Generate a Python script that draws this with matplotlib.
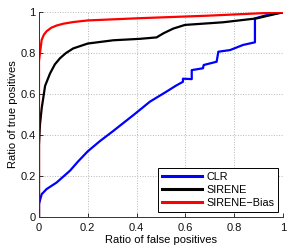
import matplotlib
matplotlib.use('Agg')
import matplotlib.pyplot as plt

plt.rcParams['font.family'] = ['Liberation Sans', 'DejaVu Sans']

# ROC curves
clr_fpr = [0, 0, 0.011, 0.031, 0.072, 0.127, 0.16, 0.2, 0.25, 0.305, 0.39, 0.455, 0.52,
           0.56, 0.578, 0.59, 0.59, 0.626, 0.626, 0.672, 0.675, 0.728, 0.735, 0.783,
           0.836, 0.885, 0.885, 0.93, 1.0]
clr_tpr = [0, 0.062, 0.11, 0.135, 0.167, 0.225, 0.27, 0.32, 0.37, 0.42, 0.50, 0.563, 0.61,
           0.64, 0.652, 0.66, 0.675, 0.673, 0.717, 0.726, 0.742, 0.758, 0.807, 0.815,
           0.84, 0.853, 0.97, 0.985, 1.0]

sirene_fpr = [0, 0, 0.004, 0.011, 0.025, 0.045, 0.065, 0.086, 0.11, 0.14, 0.2, 0.305,
              0.414, 0.482, 0.51, 0.55, 0.598, 0.755, 0.892, 1.0]
sirene_tpr = [0, 0.35, 0.45, 0.53, 0.64, 0.70, 0.745, 0.775, 0.80, 0.823, 0.847, 0.863,
              0.87, 0.877, 0.897, 0.92, 0.938, 0.951, 0.97, 1.0]

bias_fpr = [0, 0, 0.004, 0.011, 0.02, 0.031, 0.05, 0.072, 0.1, 0.14, 0.2, 0.414, 0.687, 1.0]
bias_tpr = [0, 0.76, 0.80, 0.865, 0.89, 0.907, 0.924, 0.935, 0.944, 0.952, 0.96, 0.971,
            0.983, 1.0]

ticks = [0, 0.2, 0.4, 0.6, 0.8, 1]
tick_labels = ['0', '0.2', '0.4', '0.6', '0.8', '1']

fig = plt.figure(figsize=(2.91, 2.45), dpi=100)
ax = fig.add_axes([0.134, 0.1155, 0.8385, 0.8345])

ax.plot(clr_fpr, clr_tpr, color='#0000ff', lw=1.6, label='CLR')
ax.plot(sirene_fpr, sirene_tpr, color='black', lw=1.6, label='SIRENE')
ax.plot(bias_fpr, bias_tpr, color='#ff0000', lw=1.6, label='SIRENE\u2212Bias')

ax.set_xlim(0, 1)
ax.set_ylim(0, 1)
ax.set_xticks(ticks)
ax.set_xticklabels(tick_labels)
ax.set_yticks(ticks)
ax.set_yticklabels(tick_labels)
ax.tick_params(direction='in', length=3, width=0.6, labelsize=8, colors='#111111')
ax.tick_params(axis='x', pad=4.5)
ax.tick_params(axis='y', pad=2.5)
ax.grid(True, linestyle=':', color='#b8b8b8', lw=0.7)
ax.spines['top'].set_visible(False)
ax.spines['right'].set_visible(False)
for s in ['left', 'bottom']:
    ax.spines[s].set_linewidth(0.7)
    ax.spines[s].set_color('#333333')

ax.set_xlabel('Ratio of false positives', fontsize=8, labelpad=1.5)
ax.set_ylabel('Ratio of true positives', fontsize=8, labelpad=1.5)

leg = ax.legend(loc='lower right', fontsize=7.8, fancybox=False, framealpha=1,
                edgecolor='black', handlelength=3.7, borderpad=0.35, labelspacing=0.3,
                handletextpad=0.4, borderaxespad=0.45)
leg.get_frame().set_linewidth(0.7)
for line in leg.get_lines():
    line.set_linewidth(2.2)

fig.savefig('out.png', dpi=100)
